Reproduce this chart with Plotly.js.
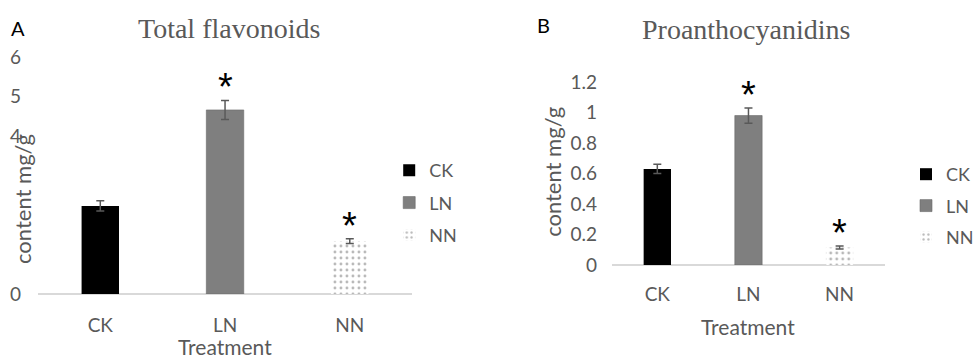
<!DOCTYPE html>
<html>
<head>
<meta charset="utf-8">
<script src="https://cdn.plot.ly/plotly-3.0.1.min.js"></script>
<style>
html,body{margin:0;padding:0;background:#fff;}
#chart{width:979px;height:358px;}
</style>
</head>
<body>
<div id="chart"></div>
<script>
// ---- data ----
const categories = ["CK", "LN", "NN"];
const flavonoidValues = [2.23, 4.66, 1.34];
const flavonoidErrors = [0.13, 0.24, 0.06];
const proanthValues = [0.63, 0.98, 0.115];
const proanthErrors = [0.03, 0.05, 0.01];
const flavonoidTicks = [0, 4, 5, 6];
const proanthTicks = [0, 0.2, 0.4, 0.6, 0.8, 1, 1.2];
const proanthTickText = ["0", "0.2", "0.4", "0.6", "0.8", "1", "1.2"];
const significant = [false, true, true];

const labelFont = "Lato, 'Open Sans', sans-serif";
const gray = "#595959";
const fills = ["#000000", "#7f7f7f", "#ffffff"];

function makeTraces(values, errors, xa, ya, legendName) {
  return categories.map((c, i) => {
    const t = {
      type: "bar",
      name: c,
      x: [c],
      y: [values[i]],
      xaxis: xa,
      yaxis: ya,
      width: 0.3,
      legend: legendName,
      legendgroup: legendName + c,
      marker: {
        color: fills[i],
        line: {width: i === 1 ? 0.6 : 0, color: "#6a6a6a"}
      },
      error_y: {type: "data", array: [errors[i]], visible: true, color: gray, thickness: 1.5, width: 4}
    };
    if (i === 2) {
      t.marker.pattern = {shape: ".", fgcolor: "#b8b8b8", bgcolor: "#ffffff", size: 6, solidity: 0.18};
    }
    return t;
  });
}

const data = [
  ...makeTraces(flavonoidValues, flavonoidErrors, "x", "y", "legend"),
  ...makeTraces(proanthValues, proanthErrors, "x2", "y2", "legend2")
];

const starFont = {family: "Liberation Sans, Arial", size: 38, color: "#000"};
const annotations = [];
categories.forEach((c, i) => {
  if (!significant[i]) return;
  annotations.push({xref: "x", yref: "y", x: c, y: flavonoidValues[i] + flavonoidErrors[i], text: "*",
    showarrow: false, xanchor: "center", yanchor: "bottom", yshift: -10, font: starFont});
  annotations.push({xref: "x2", yref: "y2", x: c, y: proanthValues[i] + proanthErrors[i], text: "*",
    showarrow: false, xanchor: "center", yanchor: "bottom", yshift: -10, font: starFont});
});
function pa(x, y, text, font, extra) {
  return Object.assign({xref: "paper", yref: "paper", x: x/979, y: 1 - y/358, text: text, showarrow: false,
    xanchor: "center", yanchor: "middle", font: font}, extra || {});
}
const serif = "Liberation Serif, 'Times New Roman', serif";
annotations.push(
  pa(18, 28, "A", {family: labelFont, size: 20, color: "#000"}),
  pa(229, 28, "Total flavonoids", {family: serif, size: 28, color: gray}),
  pa(545, 25, "B", {family: labelFont, size: 20, color: "#000"}),
  pa(748, 30, "Proanthocyanidins", {family: serif, size: 28, color: gray}),
  pa(225, 346, "Treatment", {family: labelFont, size: 21, color: gray}),
  pa(750, 326, "Treatment", {family: labelFont, size: 21, color: gray}),
  pa(22, 199, "content mg/g", {family: labelFont, size: 22, color: gray}, {textangle: -90}),
  pa(553, 172, "content mg/g", {family: labelFont, size: 22, color: gray}, {textangle: -90})
);

const xCommon = {type: "category", categoryorder: "array", categoryarray: categories, range: [-0.5, 2.5],
  showgrid: false, showline: false, zeroline: false, ticks: "outside", tickcolor: "rgba(0,0,0,0)",
  tickfont: {family: labelFont, size: 19, color: gray}, fixedrange: true};
const yCommon = {showgrid: false, showline: false, zeroline: true, zerolinecolor: "#d9d9d9", zerolinewidth: 1.5,
  ticks: "outside", tickcolor: "rgba(0,0,0,0)", tickfont: {family: labelFont, size: 19, color: gray}, fixedrange: true};

const legendFont = {family: labelFont, size: 18, color: gray};
const layout = {
  width: 979, height: 358,
  margin: {l: 0, r: 0, t: 0, b: 0},
  paper_bgcolor: "#fff", plot_bgcolor: "rgba(0,0,0,0)",
  barmode: "overlay",
  showlegend: true,
  xaxis: Object.assign({}, xCommon, {domain: [38/979, 413/979], anchor: "y", ticklen: 14}),
  yaxis: Object.assign({}, yCommon, {domain: [1 - 294/358, 1 - 57/358], anchor: "x", range: [0, 6], tickvals: flavonoidTicks, ticklen: 12}),
  xaxis2: Object.assign({}, xCommon, {domain: [613/979, 887/979], anchor: "y2", ticklen: 12}),
  yaxis2: Object.assign({}, yCommon, {domain: [1 - 265/358, 1 - 82/358], anchor: "x2", range: [0, 1.2], tickvals: proanthTicks, ticktext: proanthTickText, ticklen: 10}),
  legend: {x: 390/979, y: 1 - 152/358, xanchor: "left", yanchor: "top", traceorder: "grouped", tracegroupgap: 6,
    font: legendFont, bgcolor: "rgba(0,0,0,0)", itemwidth: 30},
  legend2: {x: 908/979, y: 1 - 156/358, xanchor: "left", yanchor: "top", traceorder: "grouped", tracegroupgap: 5,
    font: legendFont, bgcolor: "rgba(0,0,0,0)", itemwidth: 30},
  annotations: annotations
};

Plotly.newPlot("chart", data, layout, {displayModeBar: false, staticPlot: true});
</script>
</body>
</html>
